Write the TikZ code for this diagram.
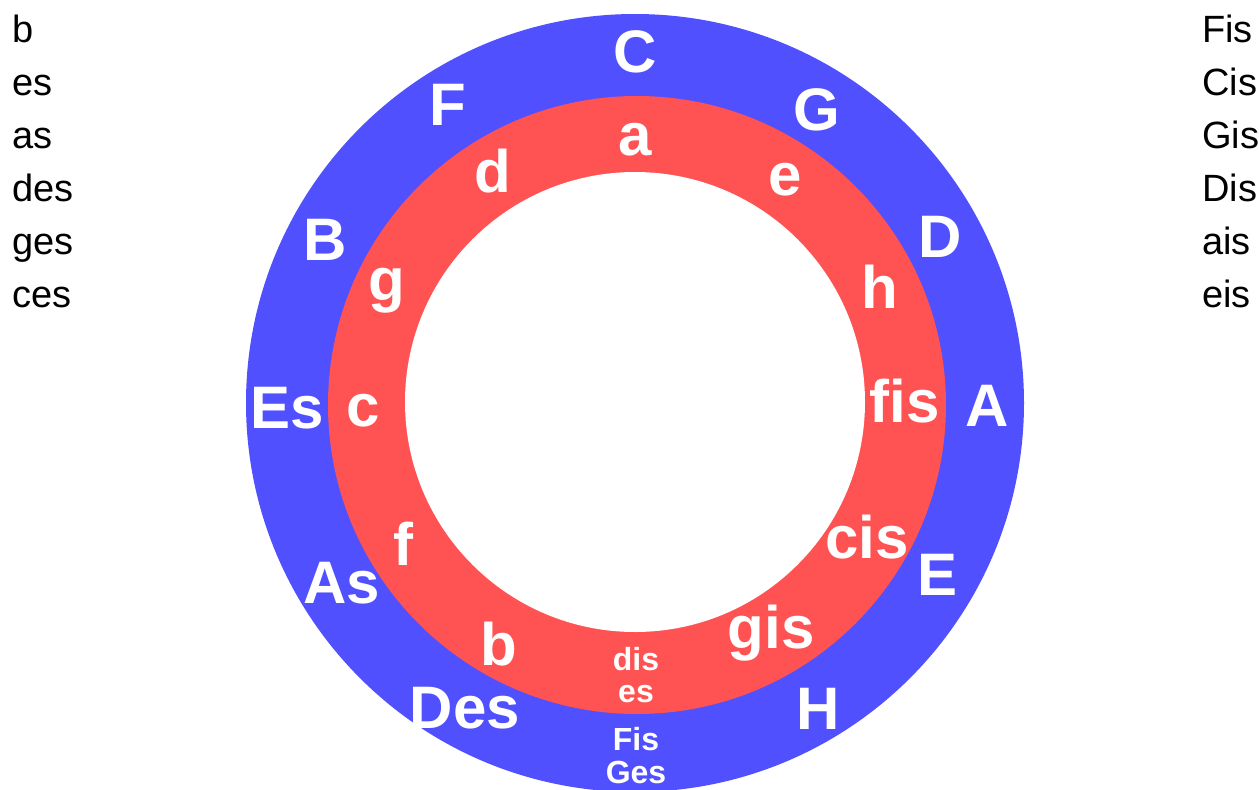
\documentclass[tikz,border=0pt]{standalone}
\usepackage{fontspec}
\setmainfont{Liberation Sans}
\definecolor{ringblue}{RGB}{80,80,255}
\definecolor{ringred}{RGB}{255,82,82}
\begin{document}
\begin{tikzpicture}[x=1pt,y=-1pt,
  big/.style={text=white,font=\fontsize{60}{60}\selectfont\bfseries,anchor=base,inner sep=0pt},
  small/.style={text=white,font=\fontsize{32}{32}\selectfont\bfseries,anchor=base,inner sep=0pt},
  side/.style={text=black,font=\fontsize{38}{38}\selectfont,anchor=base west,inner sep=0pt}]
\useasboundingbox (0,0) rectangle (1259,790);
\clip (0,0) rectangle (1259,790);
\fill[ringblue] (635,403) circle[radius=389pt];
\fill[ringred] (637,405) circle[radius=309pt];
\fill[white] (635,402) circle[radius=230pt];
% outer ring
\node[big] (C) at (635,72) {C};
\node[big] (G) at (817,130) {G};
\node[big] (D) at (940,257) {D};
\node[big] (A) at (987,426) {A};
\node[big] (E) at (938,595) {E};
\node[big] (H) at (818,729) {H};
\node[small] (Fis) at (636,750) {Fis};
\node[small] (Ges) at (636,783) {Ges};
\node[big] (Des) at (465,728) {Des};
\node[big] (As) at (342,603) {As};
\node[big] (Es) at (287,428) {Es};
\node[big] (B) at (325,260) {B};
\node[big] (F) at (448,125) {F};
% inner ring
\node[big] (a) at (635,155) {a};
\node[big] (e) at (785,195) {e};
\node[big] (h) at (880,308) {h};
\node[big] (fis) at (905,422) {fis};
\node[big] (cis) at (867,558) {cis};
\node[big] (gis) at (771,648) {gis};
\node[small] (dis) at (636,670) {dis};
\node[small] (es) at (636,702) {es};
\node[big] (bb) at (499,665) {b};
\node[big] (f) at (403,565) {f};
\node[big] (c) at (363,426) {c};
\node[big] (g) at (387,300) {g};
\node[big] (d) at (493,192) {d};
% side lists
\node[side] (l1) at (12,42) {b};
\node[side] (l2) at (12,95) {es};
\node[side] (l3) at (12,148) {as};
\node[side] (l4) at (12,201) {des};
\node[side] (l5) at (12,254) {ges};
\node[side] (l6) at (12,307) {ces};
\node[side] (r1) at (1202,42) {Fis};
\node[side] (r2) at (1202,95) {Cis};
\node[side] (r3) at (1202,148) {Gis};
\node[side] (r4) at (1202,201) {Dis};
\node[side] (r5) at (1202,254) {ais};
\node[side] (r6) at (1202,307) {eis};
\end{tikzpicture}
\end{document}
